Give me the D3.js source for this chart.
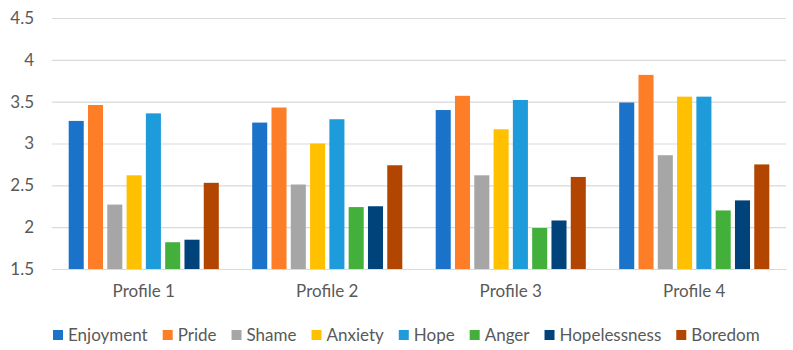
<!DOCTYPE html>
<html>
<head>
<meta charset="utf-8">
<script src="https://cdn.jsdelivr.net/npm/d3@7"></script>
<style>
  body { margin: 0; background: white; }
  svg text { font-family: Lato, "Open Sans", sans-serif; fill: #595959; }
</style>
</head>
<body>
<svg id="chart"></svg>
<script>
const profiles = ["Profile 1", "Profile 2", "Profile 3", "Profile 4"];
const emotions = ["Enjoyment", "Pride", "Shame", "Anxiety", "Hope", "Anger", "Hopelessness", "Boredom"];
const colors = ["#1a73c8", "#fe7e27", "#a6a6a6", "#ffc000", "#1d9bda", "#43b03c", "#00437a", "#b24500"];
// values per emotion, one entry per profile
const enjoyment = [3.27, 3.25, 3.40, 3.49];
const pride = [3.46, 3.43, 3.57, 3.82];
const shame = [2.27, 2.51, 2.62, 2.86];
const anxiety = [2.62, 3.00, 3.17, 3.56];
const hope = [3.36, 3.29, 3.52, 3.56];
const anger = [1.82, 2.24, 1.99, 2.20];
const hopelessness = [1.85, 2.25, 2.08, 2.32];
const boredom = [2.53, 2.74, 2.60, 2.75];
const yTicks = [1.5, 2, 2.5, 3, 3.5, 4, 4.5];

const series = [enjoyment, pride, shame, anxiety, hope, anger, hopelessness, boredom];

const width = 793, height = 350;
const margin = { left: 52, right: 7, top: 18, bottom: 81 };

const svg = d3.select("#chart").attr("width", width).attr("height", height);

const x0 = d3.scaleBand()
    .domain(profiles)
    .range([margin.left, width - margin.right]);

const x1 = d3.scaleBand()
    .domain(emotions)
    .range([0, x0.bandwidth()])
    .paddingInner(0.22)
    .paddingOuter(0.865);

const y = d3.scaleLinear()
    .domain([1.5, 4.5])
    .range([height - margin.bottom, margin.top]);

// gridlines
const yAxis = d3.axisLeft(y)
    .tickValues(yTicks)
    .tickSize(-(width - margin.left - margin.right))
    .tickPadding(18)
    .tickFormat(d => d);

const gy = svg.append("g")
    .attr("transform", "translate(" + margin.left + ",0)")
    .call(yAxis);
gy.select(".domain").remove();
gy.selectAll(".tick line").attr("stroke", "#d9d9d9").attr("stroke-width", 1.2);
gy.selectAll(".tick text").style("font-size", "17px").attr("fill", "#595959");

// bars
const groups = svg.append("g")
    .selectAll("g")
    .data(profiles)
    .enter()
    .append("g")
    .attr("transform", d => "translate(" + x0(d) + ",0)");

groups.selectAll("rect")
    .data((p, i) => emotions.map((e, j) => ({ e: e, v: series[j][i], c: colors[j] })))
    .enter()
    .append("rect")
    .attr("x", d => x1(d.e))
    .attr("y", d => y(d.v))
    .attr("width", x1.bandwidth())
    .attr("height", d => y(1.5) - y(d.v))
    .attr("fill", d => d.c);

// category labels
const xAxis = d3.axisBottom(x0).tickSize(0).tickPadding(16);
const gx = svg.append("g")
    .attr("transform", "translate(0," + (height - margin.bottom) + ")")
    .call(xAxis);
gx.select(".domain").attr("stroke", "#d9d9d9").attr("stroke-width", 1.2);
gx.selectAll(".tick text").style("font-size", "17px").attr("fill", "#595959");

// legend
const legend = svg.append("g").attr("transform", "translate(53,335)");
let lx = 0;
emotions.forEach((e, i) => {
    const item = legend.append("g").attr("transform", "translate(" + lx + ",0)");
    item.append("rect")
        .attr("x", 0).attr("y", -5)
        .attr("width", 10).attr("height", 10)
        .attr("fill", colors[i]);
    const t = item.append("text")
        .attr("x", 15).attr("y", 6)
        .style("font-size", "17px")
        .text(e);
    lx += 15 + t.node().getComputedTextLength() + 15;
});
</script>
</body>
</html>
